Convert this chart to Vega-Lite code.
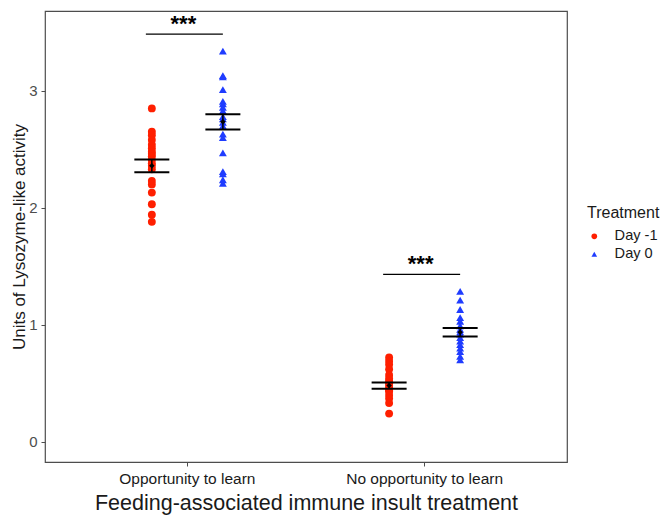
{
  "$schema": "https://vega.github.io/schema/vega-lite/v6.json",
  "autosize": {"type": "none"},
  "padding": {"left": 45, "top": 11, "right": 98, "bottom": 55},
  "width": 522,
  "height": 451,
  "config": {
    "font": "Liberation Sans",
    "view": {"stroke": "#4d4d4d", "strokeWidth": 1.2},
    "axis": {"grid": false, "domain": false, "tickColor": "#4d4d4d", "tickSize": 4, "labelColor": "#4d4d4d", "labelFont": "Liberation Sans", "titleFont": "Liberation Sans", "titleFontWeight": "normal", "titleColor": "#1a1a1a"}
  },
  "datasets": {
    "points": [
      {"group": "Opportunity to learn", "treatment": "Day -1", "value": 2.85},
      {"group": "Opportunity to learn", "treatment": "Day -1", "value": 2.65},
      {"group": "Opportunity to learn", "treatment": "Day -1", "value": 2.62},
      {"group": "Opportunity to learn", "treatment": "Day -1", "value": 2.58},
      {"group": "Opportunity to learn", "treatment": "Day -1", "value": 2.54},
      {"group": "Opportunity to learn", "treatment": "Day -1", "value": 2.51},
      {"group": "Opportunity to learn", "treatment": "Day -1", "value": 2.48},
      {"group": "Opportunity to learn", "treatment": "Day -1", "value": 2.46},
      {"group": "Opportunity to learn", "treatment": "Day -1", "value": 2.44},
      {"group": "Opportunity to learn", "treatment": "Day -1", "value": 2.41},
      {"group": "Opportunity to learn", "treatment": "Day -1", "value": 2.38},
      {"group": "Opportunity to learn", "treatment": "Day -1", "value": 2.36},
      {"group": "Opportunity to learn", "treatment": "Day -1", "value": 2.33},
      {"group": "Opportunity to learn", "treatment": "Day -1", "value": 2.23},
      {"group": "Opportunity to learn", "treatment": "Day -1", "value": 2.20},
      {"group": "Opportunity to learn", "treatment": "Day -1", "value": 2.13},
      {"group": "Opportunity to learn", "treatment": "Day -1", "value": 2.03},
      {"group": "Opportunity to learn", "treatment": "Day -1", "value": 1.94},
      {"group": "Opportunity to learn", "treatment": "Day -1", "value": 1.88},
      {"group": "Opportunity to learn", "treatment": "Day 0", "value": 3.34},
      {"group": "Opportunity to learn", "treatment": "Day 0", "value": 3.13},
      {"group": "Opportunity to learn", "treatment": "Day 0", "value": 3.12},
      {"group": "Opportunity to learn", "treatment": "Day 0", "value": 3.01},
      {"group": "Opportunity to learn", "treatment": "Day 0", "value": 2.91},
      {"group": "Opportunity to learn", "treatment": "Day 0", "value": 2.89},
      {"group": "Opportunity to learn", "treatment": "Day 0", "value": 2.86},
      {"group": "Opportunity to learn", "treatment": "Day 0", "value": 2.83},
      {"group": "Opportunity to learn", "treatment": "Day 0", "value": 2.78},
      {"group": "Opportunity to learn", "treatment": "Day 0", "value": 2.76},
      {"group": "Opportunity to learn", "treatment": "Day 0", "value": 2.73},
      {"group": "Opportunity to learn", "treatment": "Day 0", "value": 2.70},
      {"group": "Opportunity to learn", "treatment": "Day 0", "value": 2.63},
      {"group": "Opportunity to learn", "treatment": "Day 0", "value": 2.60},
      {"group": "Opportunity to learn", "treatment": "Day 0", "value": 2.47},
      {"group": "Opportunity to learn", "treatment": "Day 0", "value": 2.31},
      {"group": "Opportunity to learn", "treatment": "Day 0", "value": 2.29},
      {"group": "Opportunity to learn", "treatment": "Day 0", "value": 2.24},
      {"group": "Opportunity to learn", "treatment": "Day 0", "value": 2.21},
      {"group": "No opportunity to learn", "treatment": "Day -1", "value": 0.72},
      {"group": "No opportunity to learn", "treatment": "Day -1", "value": 0.69},
      {"group": "No opportunity to learn", "treatment": "Day -1", "value": 0.66},
      {"group": "No opportunity to learn", "treatment": "Day -1", "value": 0.62},
      {"group": "No opportunity to learn", "treatment": "Day -1", "value": 0.57},
      {"group": "No opportunity to learn", "treatment": "Day -1", "value": 0.54},
      {"group": "No opportunity to learn", "treatment": "Day -1", "value": 0.52},
      {"group": "No opportunity to learn", "treatment": "Day -1", "value": 0.50},
      {"group": "No opportunity to learn", "treatment": "Day -1", "value": 0.48},
      {"group": "No opportunity to learn", "treatment": "Day -1", "value": 0.46},
      {"group": "No opportunity to learn", "treatment": "Day -1", "value": 0.44},
      {"group": "No opportunity to learn", "treatment": "Day -1", "value": 0.43},
      {"group": "No opportunity to learn", "treatment": "Day -1", "value": 0.40},
      {"group": "No opportunity to learn", "treatment": "Day -1", "value": 0.37},
      {"group": "No opportunity to learn", "treatment": "Day -1", "value": 0.33},
      {"group": "No opportunity to learn", "treatment": "Day -1", "value": 0.24},
      {"group": "No opportunity to learn", "treatment": "Day 0", "value": 1.285},
      {"group": "No opportunity to learn", "treatment": "Day 0", "value": 1.21},
      {"group": "No opportunity to learn", "treatment": "Day 0", "value": 1.13},
      {"group": "No opportunity to learn", "treatment": "Day 0", "value": 1.06},
      {"group": "No opportunity to learn", "treatment": "Day 0", "value": 1.03},
      {"group": "No opportunity to learn", "treatment": "Day 0", "value": 0.99},
      {"group": "No opportunity to learn", "treatment": "Day 0", "value": 0.96},
      {"group": "No opportunity to learn", "treatment": "Day 0", "value": 0.94},
      {"group": "No opportunity to learn", "treatment": "Day 0", "value": 0.92},
      {"group": "No opportunity to learn", "treatment": "Day 0", "value": 0.89},
      {"group": "No opportunity to learn", "treatment": "Day 0", "value": 0.86},
      {"group": "No opportunity to learn", "treatment": "Day 0", "value": 0.83},
      {"group": "No opportunity to learn", "treatment": "Day 0", "value": 0.80},
      {"group": "No opportunity to learn", "treatment": "Day 0", "value": 0.77},
      {"group": "No opportunity to learn", "treatment": "Day 0", "value": 0.73},
      {"group": "No opportunity to learn", "treatment": "Day 0", "value": 0.70}
    ],
    "summary": [
      {"group": "Opportunity to learn", "treatment": "Day -1", "mean": 2.36, "lower": 2.305, "upper": 2.414},
      {"group": "Opportunity to learn", "treatment": "Day 0", "mean": 2.735, "lower": 2.67, "upper": 2.80},
      {"group": "No opportunity to learn", "treatment": "Day -1", "mean": 0.48, "lower": 0.452, "upper": 0.506},
      {"group": "No opportunity to learn", "treatment": "Day 0", "mean": 0.935, "lower": 0.90, "upper": 0.972}
    ],
    "sig": [
      {"group": "Opportunity to learn", "y": 3.485, "ytext": 3.60, "label": "***"},
      {"group": "No opportunity to learn", "y": 1.43, "ytext": 1.545, "label": "***"}
    ]
  },
  "encoding": {
    "x": {
      "field": "group", "type": "nominal",
      "sort": ["Opportunity to learn", "No opportunity to learn"],
      "scale": {"paddingInner": 0, "paddingOuter": 0.1},
      "axis": {"title": "Feeding-associated immune insult treatment", "labelAngle": 0, "labelFontSize": 15.5, "labelColor": "#1a1a1a", "titleFontSize": 21.5, "titlePadding": 6, "labelPadding": 5}
    }
  },
  "layer": [
    {
      "data": {"name": "points"},
      "mark": {"type": "point", "filled": true, "opacity": 1, "size": 62},
      "encoding": {
        "xOffset": {"field": "treatment", "type": "nominal", "scale": {"paddingInner": 0, "paddingOuter": 0.67}},
        "y": {
          "field": "value", "type": "quantitative",
          "scale": {"domain": [-0.174, 3.683], "nice": false, "zero": false},
          "axis": {"title": "Units of Lysozyme-like activity", "values": [0, 1, 2, 3], "format": "d", "labelFontSize": 15, "titleFontSize": 17, "titlePadding": 0, "labelPadding": 4}
        },
        "color": {
          "field": "treatment", "type": "nominal",
          "scale": {"domain": ["Day -1", "Day 0"], "range": ["#ff1f00", "#1f3cff"]},
          "legend": {"title": "Treatment", "orient": "none", "legendX": 542, "legendY": 194, "titleFontSize": 16, "titleFontWeight": "normal", "titleColor": "#1a1a1a", "labelFontSize": 14.6, "labelColor": "#1a1a1a", "symbolSize": 32, "rowPadding": 3, "titlePadding": 8, "labelOffset": 13}
        },
        "shape": {
          "field": "treatment", "type": "nominal",
          "scale": {"domain": ["Day -1", "Day 0"], "range": ["circle", "triangle-up"]}
        }
      }
    },
    {
      "data": {"name": "summary"},
      "mark": {"type": "rule", "color": "black", "strokeWidth": 1.5},
      "encoding": {
        "xOffset": {"field": "treatment", "type": "nominal", "scale": {"paddingInner": 0, "paddingOuter": 0.67}},
        "y": {"field": "lower", "type": "quantitative"},
        "y2": {"field": "upper"}
      }
    },
    {
      "data": {"name": "summary"},
      "mark": {"type": "tick", "orient": "horizontal", "color": "black", "size": 35, "thickness": 2, "opacity": 1},
      "encoding": {
        "xOffset": {"field": "treatment", "type": "nominal", "scale": {"paddingInner": 0, "paddingOuter": 0.67}},
        "y": {"field": "lower", "type": "quantitative"}
      }
    },
    {
      "data": {"name": "summary"},
      "mark": {"type": "tick", "orient": "horizontal", "color": "black", "size": 35, "thickness": 2, "opacity": 1},
      "encoding": {
        "xOffset": {"field": "treatment", "type": "nominal", "scale": {"paddingInner": 0, "paddingOuter": 0.67}},
        "y": {"field": "upper", "type": "quantitative"}
      }
    },
    {
      "data": {"name": "summary"},
      "mark": {"type": "point", "shape": "diamond", "filled": true, "color": "black", "size": 30, "opacity": 1},
      "encoding": {
        "xOffset": {"field": "treatment", "type": "nominal", "scale": {"paddingInner": 0, "paddingOuter": 0.67}},
        "y": {"field": "mean", "type": "quantitative"}
      }
    },
    {
      "data": {"name": "sig"},
      "mark": {"type": "tick", "orient": "horizontal", "color": "black", "size": 77, "thickness": 1.3, "opacity": 1, "xOffset": -3},
      "encoding": {
        "y": {"field": "y", "type": "quantitative"}
      }
    },
    {
      "data": {"name": "sig"},
      "mark": {"type": "text", "fontSize": 22, "fontWeight": "bold", "baseline": "middle", "align": "center", "color": "black", "xOffset": -4, "dy": 3},
      "encoding": {
        "y": {"field": "ytext", "type": "quantitative"},
        "text": {"field": "label"}
      }
    }
  ]
}
